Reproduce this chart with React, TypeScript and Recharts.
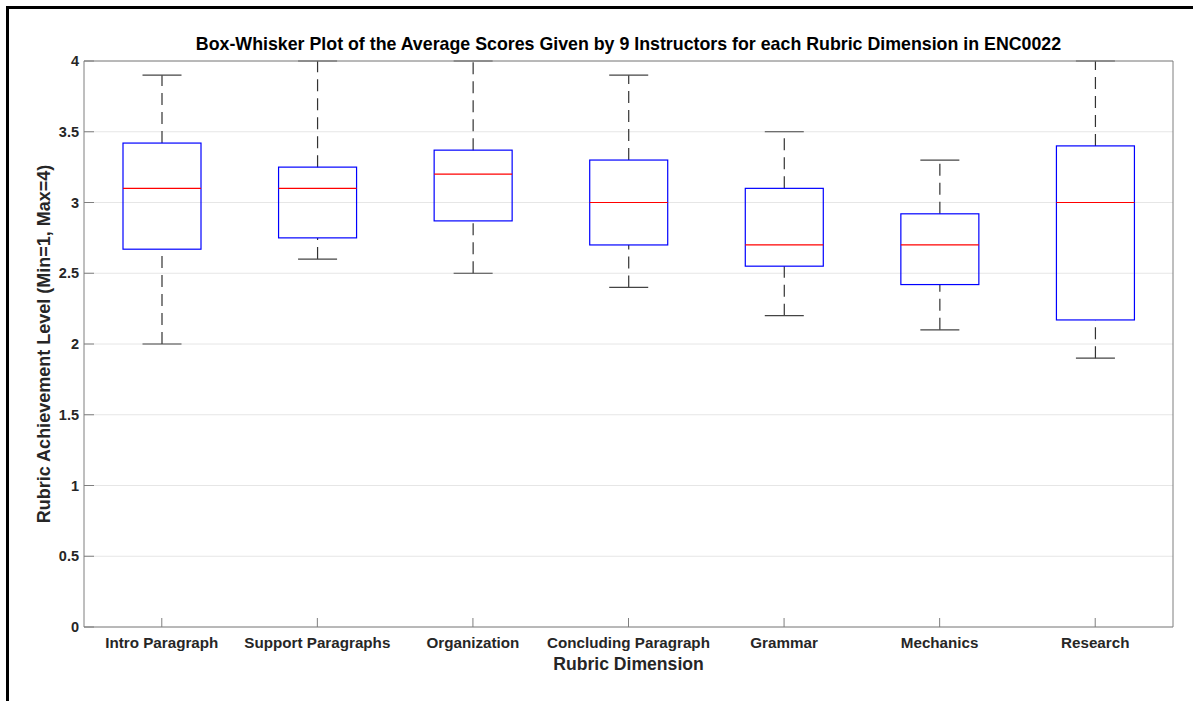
import React from 'react';
import { ComposedChart, Bar, XAxis, YAxis, CartesianGrid } from 'recharts';

const categories = [
  'Intro Paragraph',
  'Support Paragraphs',
  'Organization',
  'Concluding Paragraph',
  'Grammar',
  'Mechanics',
  'Research',
];
const minValues = [2.0, 2.6, 2.5, 2.4, 2.2, 2.1, 1.9];
const q1Values = [2.67, 2.75, 2.87, 2.7, 2.55, 2.42, 2.17];
const medianValues = [3.1, 3.1, 3.2, 3.0, 2.7, 2.7, 3.0];
const q3Values = [3.42, 3.25, 3.37, 3.3, 3.1, 2.92, 3.4];
const maxValues = [3.9, 4.0, 4.0, 3.9, 3.5, 3.3, 4.0];
const yTicks = [0, 0.5, 1, 1.5, 2, 2.5, 3, 3.5, 4];

const TITLE =
  'Box-Whisker Plot of the Average Scores Given by 9 Instructors for each Rubric Dimension in ENC0022';
const X_LABEL = 'Rubric Dimension';
const Y_LABEL = 'Rubric Achievement Level (Min=1, Max=4)';

const data = categories.map((name, i) => ({
  name,
  min: minValues[i],
  q1: q1Values[i],
  median: medianValues[i],
  q3: q3Values[i],
  max: maxValues[i],
}));

const FONT = '"Liberation Sans", Arial, Helvetica, sans-serif';
const AXIS = '#7f7f7f';
const TEXT = '#262626';

const BoxShape = (props: any) => {
  const { x, y, width, height, payload } = props;
  if (!payload || !isFinite(y) || !isFinite(height)) return null;
  const { min, q1, median, q3, max } = payload;
  const top = Math.min(y, y + height);
  const bottom = Math.max(y, y + height);
  const span = max - min;
  const toY = (v: number) => bottom - ((bottom - top) * (v - min)) / span;
  const cx = x + width / 2;
  const boxW = width / 2;
  const capW = width / 4;
  const yMin = toY(min);
  const yQ1 = toY(q1);
  const yMed = toY(median);
  const yQ3 = toY(q3);
  const yMax = toY(max);
  return (
    <g>
      <line x1={cx} y1={yMin} x2={cx} y2={yQ1} stroke="#333" strokeWidth={1.2} strokeDasharray="12 7" />
      <line x1={cx} y1={yQ3} x2={cx} y2={yMax} stroke="#333" strokeWidth={1.2} strokeDasharray="12 7" />
      <line x1={cx - capW / 2} x2={cx + capW / 2} y1={yMax} y2={yMax} stroke="#444" strokeWidth={1.2} />
      <line x1={cx - capW / 2} x2={cx + capW / 2} y1={yMin} y2={yMin} stroke="#444" strokeWidth={1.2} />
      <rect x={cx - boxW / 2} y={yQ3} width={boxW} height={yQ1 - yQ3} fill="none" stroke="#0000ff" strokeWidth={1.2} />
      <line x1={cx - boxW / 2} x2={cx + boxW / 2} y1={yMed} y2={yMed} stroke="#ff0000" strokeWidth={1.2} />
    </g>
  );
};

const TitleLabel = (props: any) => {
  const vb = props.viewBox || {};
  return (
    <text
      x={vb.x + vb.width / 2}
      y={vb.y - 10}
      textAnchor="middle"
      fontFamily={FONT}
      fontWeight="bold"
      fontSize={17.8}
      fill="#000"
    >
      {TITLE}
    </text>
  );
};

const XLabel = (props: any) => {
  const vb = props.viewBox || {};
  return (
    <text
      x={vb.x + vb.width / 2}
      y={vb.y + 43}
      textAnchor="middle"
      fontFamily={FONT}
      fontWeight="bold"
      fontSize={17.6}
      fill={TEXT}
    >
      {X_LABEL}
    </text>
  );
};

const YLabel = (props: any) => {
  const vb = props.viewBox || {};
  const cx = vb.x - 33;
  const cy = vb.y + vb.height / 2;
  return (
    <text
      x={cx}
      y={cy}
      transform={`rotate(-90 ${cx} ${cy})`}
      textAnchor="middle"
      fontFamily={FONT}
      fontWeight="bold"
      fontSize={18}
      fill={TEXT}
    >
      {Y_LABEL}
    </text>
  );
};

export default function App() {
  return (
    <div style={{ position: 'absolute', left: 0, top: 0, width: 1193, height: 701, background: '#fff' }}>
      <div
        style={{
          position: 'absolute',
          left: 6,
          top: 6,
          width: 1187,
          height: 695,
          borderLeft: '3px solid #000',
          borderTop: '3px solid #000',
          boxSizing: 'border-box',
        }}
      />
      <div style={{ position: 'absolute', left: 0, top: 0 }}>
        <ComposedChart
          width={1193}
          height={701}
          data={data}
          margin={{ top: 60, right: 19, bottom: 73, left: 83 }}
          barCategoryGap="0%"
          barGap={0}
        >
          <CartesianGrid vertical={false} stroke="#e6e6e6" />
          <XAxis
            dataKey="name"
            xAxisId={0}
            height={1}
            interval={0}
            axisLine={{ stroke: AXIS }}
            tickLine={{ stroke: AXIS }}
            tickSize={-9}
            tickMargin={19}
            tick={{ fill: TEXT, fontSize: 15.2, fontWeight: 'bold', fontFamily: FONT }}
            label={{ content: XLabel }}
          />
          <XAxis
            dataKey="name"
            xAxisId="top"
            orientation="top"
            height={1}
            interval={0}
            axisLine={{ stroke: AXIS }}
            tickLine={{ stroke: AXIS }}
            tickSize={-10}
            tick={false}
            label={{ content: TitleLabel }}
          />
          <YAxis
            yAxisId={0}
            type="number"
            domain={[0, 4]}
            ticks={yTicks}
            interval={0}
            width={1}
            axisLine={{ stroke: AXIS }}
            tickLine={{ stroke: AXIS }}
            tickSize={-10}
            tickMargin={15}
            tick={{ fill: TEXT, fontSize: 14.5, fontWeight: 'bold', fontFamily: FONT }}
            label={{ content: YLabel }}
          />
          <YAxis
            yAxisId="right"
            orientation="right"
            type="number"
            domain={[0, 4]}
            ticks={yTicks}
            interval={0}
            width={1}
            axisLine={{ stroke: AXIS }}
            tickLine={{ stroke: AXIS }}
            tickSize={-10}
            tick={false}
          />
          <Bar
            xAxisId={0}
            yAxisId={0}
            dataKey={(d: any) => [d.min, d.max]}
            shape={BoxShape}
            isAnimationActive={false}
          />
        </ComposedChart>
      </div>
    </div>
  );
}
